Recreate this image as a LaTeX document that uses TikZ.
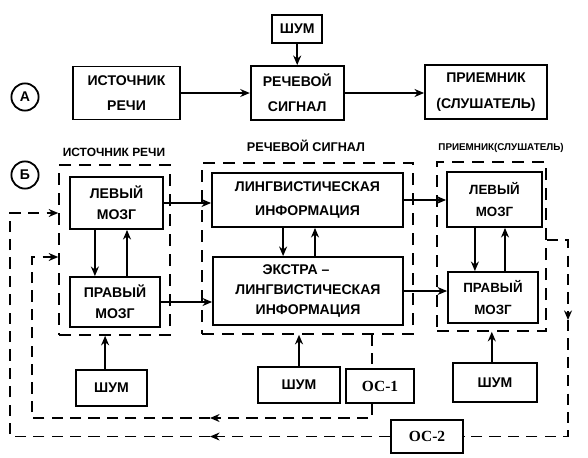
\documentclass[tikz,border=0pt]{standalone}
\usepackage{fontspec}
\setmainfont{Liberation Sans}
\newfontfamily\ocfont{Liberation Serif}
\usepackage{tikz}
\usetikzlibrary{arrows.meta,positioning}

\begin{document}
\begin{tikzpicture}[
    font=\fontsize{10}{15}\selectfont\bfseries,
    box/.style={draw=black, line width=1.3pt, align=center, inner sep=2pt},
    tallbox/.style={box, font=\fontsize{10}{18}\selectfont\bfseries},
    ocbox/.style={draw=black, line width=0.8pt, align=center, inner sep=2pt,
                  font=\ocfont\fontsize{11}{13}\selectfont\bfseries},
    group/.style={draw=black, line width=1.1pt, dash pattern=on 3mm off 2mm},
    grouptitle/.style={inner sep=0pt, font=\fontsize{8.5}{10}\selectfont\bfseries},
    schemetag/.style={draw=black, circle, line width=1.3pt, minimum size=6.8mm, inner sep=0pt},
    arrow/.style={-{Stealth[length=2.4mm,width=2mm]}, draw=black, line width=1.1pt},
    fbarrow/.style={-{Stealth[length=2.4mm,width=2mm]}, draw=black, line width=0.9pt,
                    dash pattern=on 2.8mm off 1.8mm},
    fbline/.style={draw=black, line width=0.9pt, dash pattern=on 2.8mm off 1.8mm}
]
\useasboundingbox (0,0) rectangle (14.7,-11.425);

% scheme A
\node[schemetag] (tagA) at (0.625,-2.425) {А};
\node[box, minimum width=12.5mm, minimum height=7mm] (noiseTop) at (7.43,-0.725) {ШУМ};
\node[tallbox, minimum width=26.75mm, minimum height=13.25mm] (srcA) at (3.1625,-2.325) {ИСТОЧНИК\\РЕЧИ};
\node[tallbox, minimum width=23.25mm, minimum height=13.5mm] (sigA) at (7.43,-2.325) {РЕЧЕВОЙ\\СИГНАЛ};
\node[tallbox, minimum width=30.5mm, minimum height=13.5mm] (rcvA) at (12.15,-2.3) {ПРИЕМНИК\\(СЛУШАТЕЛЬ)};

\draw[arrow] (noiseTop.south) -- (sigA.north);
\draw[arrow] (srcA.east) -- (srcA.east -| sigA.west);
\draw[arrow] (sigA.east) -- (sigA.east -| rcvA.west);

% scheme B
\node[schemetag] (tagB) at (0.625,-4.375) {Б};
\node[grouptitle] (titleSrc) at (2.85,-3.8) {ИСТОЧНИК РЕЧИ};
\node[grouptitle, font=\fontsize{9}{10}\selectfont\bfseries] (titleSig) at (7.65,-3.65) {РЕЧЕВОЙ СИГНАЛ};
\node[grouptitle, font=\fontsize{7}{8}\selectfont\bfseries] (titleRcv) at (12.525,-3.7) {ПРИЕМНИК(СЛУШАТЕЛЬ)};

\node[group, minimum width=27.75mm, minimum height=42.5mm] (grpSrc) at (2.8625,-6.25) {};
\node[group, minimum width=52.75mm, minimum height=42.75mm] (grpSig) at (7.6875,-6.2125) {};
\node[group, minimum width=27.25mm, minimum height=42.25mm] (grpRcv) at (12.2875,-6.1625) {};

\node[box, minimum width=23.25mm, minimum height=13mm] (leftSrc) at (2.9125,-5.075) {ЛЕВЫЙ\\МОЗГ};
\node[box, minimum width=22.5mm, minimum height=12.5mm] (rightSrc) at (2.875,-7.55) {ПРАВЫЙ\\МОЗГ};
\node[box, minimum width=47.75mm, minimum height=13.5mm, font=\fontsize{10}{17}\selectfont\bfseries] (ling) at (7.6875,-5.0) {ЛИНГВИСТИЧЕСКАЯ\\ИНФОРМАЦИЯ};
\node[box, minimum width=47.5mm, minimum height=17mm, font=\fontsize{10}{14}\selectfont\bfseries] (extra) at (7.7,-7.275) {ЭКСТРА –\hspace*{6mm}\\ЛИНГВИСТИЧЕСКАЯ\\ИНФОРМАЦИЯ};
\node[box, minimum width=23.75mm, minimum height=13.75mm, font=\fontsize{9.5}{15}\selectfont\bfseries] (leftRcv) at (12.3625,-4.9875) {ЛЕВЫЙ\\МОЗГ};
\node[box, minimum width=22.5mm, minimum height=12.75mm, font=\fontsize{9.5}{15}\selectfont\bfseries] (rightRcv) at (12.325,-7.4375) {ПРАВЫЙ\\МОЗГ};

\node[box, minimum width=17.75mm, minimum height=9mm] (noiseSrc) at (2.7875,-9.7) {ШУМ};
\node[box, minimum width=20.5mm, minimum height=9mm] (noiseSig) at (7.475,-9.625) {ШУМ};
\node[box, minimum width=21mm, minimum height=9.75mm] (noiseRcv) at (12.375,-9.5625) {ШУМ};
\node[ocbox, minimum width=17mm, minimum height=8.5mm] (oc1) at (9.5,-9.65) {ОС-1};
\node[ocbox, minimum width=18mm, minimum height=8.25mm] (oc2) at (10.675,-10.9125) {ОС-2};

\draw[arrow] (leftSrc.east) -- (leftSrc.east -| ling.west);
\draw[arrow] (rightSrc.east) -- (rightSrc.east -| extra.west);
\draw[arrow] (ling.east) -- (ling.east -| leftRcv.west);
\draw[arrow] (extra.east) -- (extra.east -| rightRcv.west);

\draw[arrow] ([xshift=-5.4mm]leftSrc.south) -- ([xshift=-5.4mm]leftSrc.south |- rightSrc.north);
\draw[arrow] ([xshift=3mm]rightSrc.north) -- ([xshift=3mm]rightSrc.north |- leftSrc.south);
\draw[arrow] ([xshift=-6.1mm]ling.south) -- ([xshift=-6.1mm]ling.south |- extra.north);
\draw[arrow] ([xshift=1.75mm]extra.north) -- ([xshift=1.75mm]extra.north |- ling.south);
\draw[arrow] ([xshift=-4.9mm]leftRcv.south) -- ([xshift=-4.9mm]leftRcv.south |- rightRcv.north);
\draw[arrow] ([xshift=3mm]rightRcv.north) -- ([xshift=3mm]rightRcv.north |- leftRcv.south);

\draw[arrow] ([xshift=-1.6mm]noiseSrc.north) -- ([xshift=-1.6mm]noiseSrc.north |- grpSrc.south);
\draw[arrow] (noiseSig.north) -- (noiseSig.north |- grpSig.south);
\draw[arrow] ([xshift=-0.8mm]noiseRcv.north) -- ([xshift=-0.8mm]noiseRcv.north |- grpRcv.south);

% feedback loops
\coordinate (fbOneTip) at (5.25,-10.45);
\coordinate (fbOneCorner) at (0.8,-10.45);
\coordinate (fbTwoDown) at (14.2,-8.0);
\coordinate (fbTwoTip) at (5.25,-10.9125);
\coordinate (fbTwoCorner) at (0.25,-10.9125);

\draw[fbline] ([xshift=-2mm]oc1.north |- grpSig.south) -- ([xshift=-2mm]oc1.north);
\draw[fbarrow] ([xshift=-2mm]oc1.south) |- (fbOneTip);
\draw[fbarrow] (fbOneTip) -- (fbOneCorner) |- ([yshift=-1.75mm]grpSrc.west);
\draw[fbarrow] ([yshift=1.6mm]grpRcv.east) -| (fbTwoDown);
\draw[fbline] (fbTwoDown) |- (oc2.east);
\draw[fbarrow] (oc2.west) -- (fbTwoTip);
\draw[fbarrow] (fbTwoTip) -- (fbTwoCorner) |- ([yshift=9.25mm]grpSrc.west);

\end{tikzpicture}
\end{document}
